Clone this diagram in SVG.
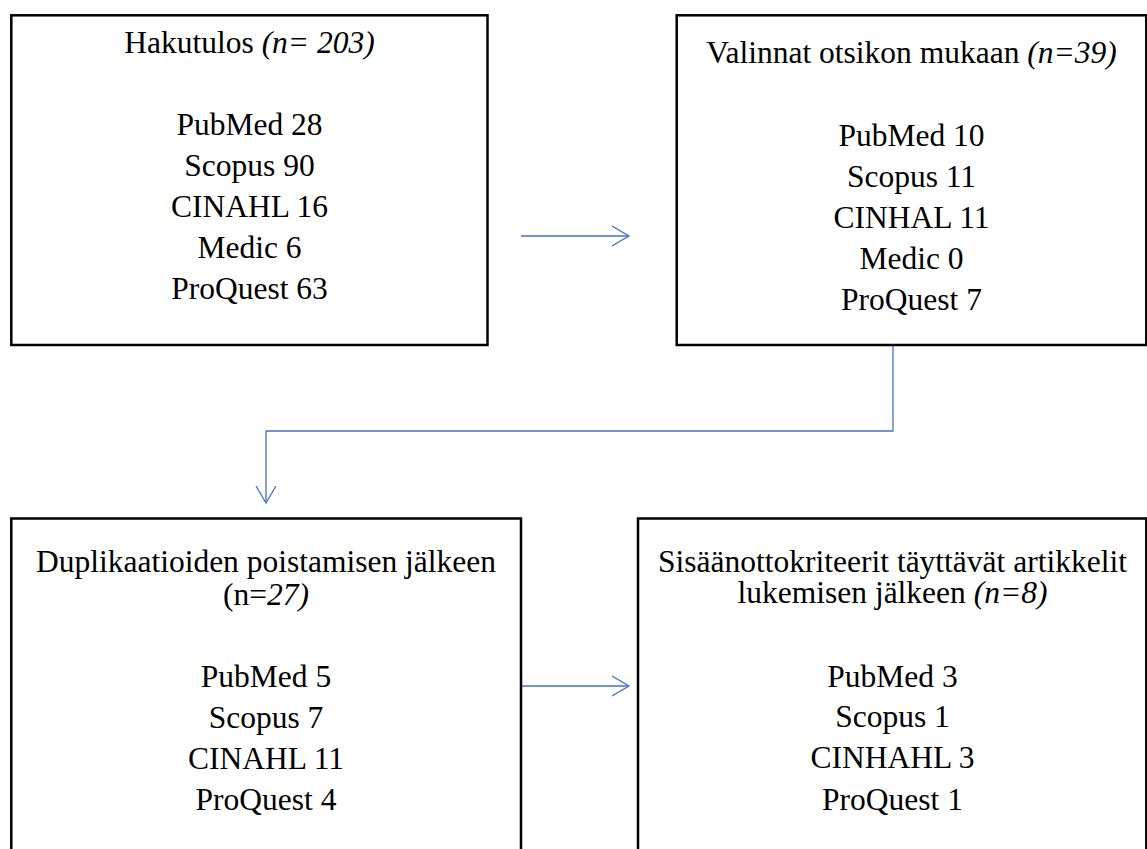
<svg xmlns="http://www.w3.org/2000/svg" width="1147" height="849" viewBox="0 0 1147 849">
<style>
.box{fill:#fff;stroke:#000;stroke-width:2.5}
.t{font-family:"Liberation Serif","Times New Roman",serif;font-size:31.5px;fill:#000;text-anchor:middle}
.i{font-style:italic}
.c{fill:none;stroke:#4472C4;stroke-width:1.3}
</style>
<defs>
<marker id="ah" markerUnits="userSpaceOnUse" markerWidth="20" markerHeight="24" refX="17" refY="10" orient="auto" viewBox="0 0 20 20">
<path d="M0,0 L17,10 L0,20" fill="none" stroke="#4472C4" stroke-width="1.3"/>
</marker>
</defs>
<rect width="1147" height="849" fill="#fff"/>
<g id="connectors">
<path class="c" d="M521,236 H629" marker-end="url(#ah)"/>
<path class="c" d="M893,346 V431 H266 V503" marker-end="url(#ah)"/>
<path class="c" d="M522,686 H629" marker-end="url(#ah)"/>
</g>
<g id="node1">
<rect class="box" x="11.3" y="15.3" width="476.2" height="329.7"/>
<text class="t" x="249.5" y="53">Hakutulos <tspan class="i">(n= 203)</tspan></text>
<text class="t" x="249.5" y="135">PubMed 28</text>
<text class="t" x="249.5" y="176">Scopus 90</text>
<text class="t" x="249.5" y="217">CINAHL 16</text>
<text class="t" x="249.5" y="258">Medic 6</text>
<text class="t" x="249.5" y="299">ProQuest 63</text>
</g>
<g id="node2">
<rect class="box" x="676.7" y="15.3" width="469.6" height="329.7"/>
<text class="t" x="911.5" y="63">Valinnat otsikon mukaan <tspan class="i">(n=39)</tspan></text>
<text class="t" x="911.5" y="146">PubMed 10</text>
<text class="t" x="911.5" y="187">Scopus 11</text>
<text class="t" x="911.5" y="228">CINHAL 11</text>
<text class="t" x="911.5" y="269">Medic 0</text>
<text class="t" x="911.5" y="310">ProQuest 7</text>
</g>
<g id="node3">
<rect class="box" x="11.3" y="518.5" width="509.7" height="340"/>
<text class="t" x="266" y="572">Duplikaatioiden poistamisen jälkeen</text>
<text class="t" x="266" y="605">(n=<tspan class="i">27)</tspan></text>
<text class="t" x="266" y="687">PubMed 5</text>
<text class="t" x="266" y="728">Scopus 7</text>
<text class="t" x="266" y="769">CINAHL 11</text>
<text class="t" x="266" y="810">ProQuest 4</text>
</g>
<g id="node4">
<rect class="box" x="638" y="518.5" width="508.3" height="340"/>
<text class="t" x="892.5" y="572">Sisäänottokriteerit täyttävät artikkelit</text>
<text class="t" x="892.5" y="603">lukemisen jälkeen <tspan class="i">(n=8)</tspan></text>
<text class="t" x="892.5" y="687">PubMed 3</text>
<text class="t" x="892.5" y="727">Scopus 1</text>
<text class="t" x="892.5" y="768">CINHAHL 3</text>
<text class="t" x="892.5" y="810">ProQuest 1</text>
</g>
</svg>
